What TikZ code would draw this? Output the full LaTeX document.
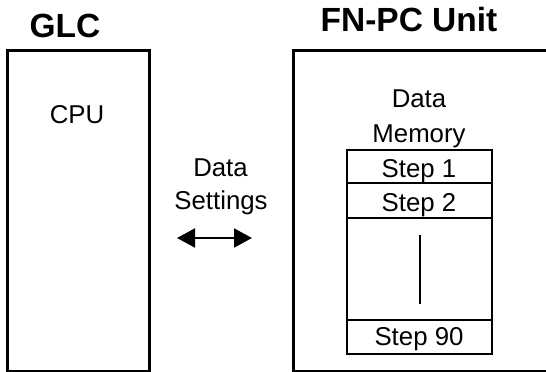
\documentclass[tikz,border=0pt]{standalone}
\usepackage{fontspec}
\setmainfont{Liberation Sans}
\usetikzlibrary{arrows.meta}
\begin{document}
\begin{tikzpicture}[x=1pt,y=-1pt,
  txt/.style={anchor=base,inner sep=0pt,font=\fontsize{25.8}{30}\selectfont},
  ttl/.style={anchor=base,inner sep=0pt,font=\fontsize{33.5}{38}\selectfont\bfseries},
  unitbox/.style={draw,line width=3pt},
  membox/.style={draw,line width=2.4pt}]
\useasboundingbox (0,0) rectangle (546,372);
% boxes
\node[unitbox,anchor=north west,inner sep=0pt,
  minimum width=142.5pt,minimum height=320.5pt] (glc) at (5.5,49) {};
\node[unitbox,anchor=north west,inner sep=0pt,
  minimum width=253.5pt,minimum height=321.5pt] (fnpc) at (292,48.5) {};
% titles
\node[ttl] (glct) at (65,37) {GLC};
\node[ttl] (fnpct) at (409,31) {FN-PC Unit};
\node[txt] (cpu) at (77,123) {CPU};
% data memory
\node[txt] (dm1) at (419,107) {Data};
\node[txt] (dm2) at (419,142) {Memory};
\coordinate (m1) at (347,150);
\coordinate (m2) at (492,354);
\draw[membox] (m1) rectangle (m2);
\coordinate (r1l) at (347,183); \coordinate (r1r) at (492,183);
\coordinate (r2l) at (347,218); \coordinate (r2r) at (492,218);
\coordinate (r3l) at (347,320); \coordinate (r3r) at (492,320);
\draw[membox] (r1l) -- (r1r);
\draw[membox] (r2l) -- (r2r);
\draw[membox] (r3l) -- (r3r);
\node[txt] (s1) at (419,177) {Step 1};
\node[txt] (s2) at (419,211.5) {Step 2};
\node[txt] (s90) at (419,345) {Step 90};
\coordinate (vt) at (420,235);
\coordinate (vb) at (420,304);
\draw[line width=1.5pt] (vt) -- (vb);
% data settings
\node[txt] (ds1) at (220.5,176) {Data};
\node[txt] (ds2) at (221,209) {Settings};
\coordinate (al) at (177,238);
\coordinate (ar) at (252,238);
\draw[line width=2pt,{Triangle[length=18pt,width=19pt]}-{Triangle[length=18pt,width=19pt]}] (al) -- (ar);
\end{tikzpicture}
\end{document}
